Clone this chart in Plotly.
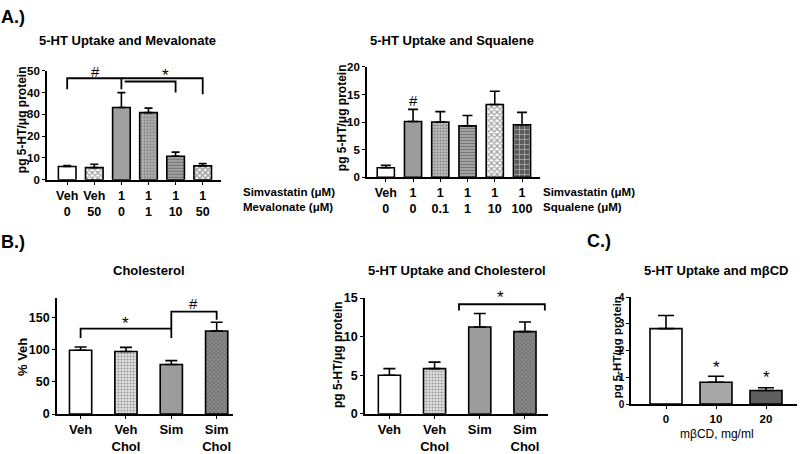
import plotly.graph_objects as go

W, H = 800, 454

# ---------------- data ----------------
mev_labels = ["Veh<br>0", "Veh<br>50", "1<br>0", "1<br>1", "1<br>10", "1<br>50"]
mev_vals = [6.1, 5.6, 33.2, 30.8, 10.8, 6.4]
mev_err = [0.4, 1.5, 6.8, 2.1, 1.9, 1.0]

sq_labels = ["Veh<br>0", "1<br>0", "1<br>0.1", "1<br>1", "1<br>10", "1<br>100"]
sq_vals = [1.7, 10.1, 10.0, 9.3, 13.2, 9.5]
sq_err = [0.45, 2.2, 1.9, 1.9, 2.4, 2.25]

chol_labels = ["Veh", "Veh<br>Chol", "Sim", "Sim<br>Chol"]
chol_vals = [99, 97, 77, 129]
chol_err = [5, 6.5, 6, 13.5]

upt_labels = ["Veh", "Veh<br>Chol", "Sim", "Sim<br>Chol"]
upt_vals = [5.0, 5.85, 11.25, 10.65]
upt_err = [0.85, 0.85, 1.75, 1.25]

mbcd_labels = ["0", "10", "20"]
mbcd_vals = [2.82, 0.82, 0.51]
mbcd_err = [0.49, 0.22, 0.10]

# significance brackets (data units) and markers
mev_brackets = [[(0, 41.5), (0, 46.6), (2, 46.6), (2, 41.5)],
                [(2, 46.6), (5, 46.6), (5, 39.3)],
                [(2.12, 45.1), (4, 45.1), (4, 40.0)]]
mev_marks = [("#", 1.03, 49.6), ("*", 3.64, 49.8)]
sq_marks = [("#", 1, 14.0)]
chol_brackets = [[(0, 118), (0, 132.5), (2, 132.5), (2, 118)],
                 [(2, 132.5), (2, 159), (3, 159), (3, 146.5)]]
chol_marks = [("*", 1, 146), ("#", 2.5, 171)]
upt_brackets = [[(1.54, 13.4), (1.54, 14.2), (3.44, 14.2), (3.44, 13.4)]]
upt_marks = [("*", 2.46, 15.6)]
mbcd_marks = [("*", 1, 1.5), ("*", 2, 1.16)]

FONT = "Liberation Sans, Arial, sans-serif"


def px(x):
    return x / W


def py(y):
    return 1 - y / H


fig = go.Figure()

panels = [
    dict(labels=mev_labels, vals=mev_vals, err=mev_err,
         bg=["#ffffff", "#ffffff", "#a0a0a0", "#b4b4b4", "#a4a4a4", "#ffffff"],
         shape=["", "x", "", ".", "-", "x"],
         fg=["#000", "#111111", "#000", "#444444", "#444444", "#000000"],
         size=[4, 4, 4, 3, 3, 4], sol=[0.3, 0.55, 0.3, 0.4, 0.4, 0.65],
         xd=(47, 221), yd=(178.7, 66), xr=(-0.745, 5.675), yr=(0, 50), dt=10,
         bw=0.65, cap=4, tf=11.5, xf=12.5),
    dict(labels=sq_labels, vals=sq_vals, err=sq_err,
         bg=["#ffffff", "#9c9c9c", "#c0c0c0", "#a8a8a8", "#ffffff", "#5a5a5a"],
         shape=["", "", ".", "-", "x", "+"],
         fg=["#000", "#000", "#555555", "#444444", "#111111", "#111111"],
         size=[4, 4, 3, 3, 4, 5], sol=[0.3, 0.3, 0.4, 0.4, 0.55, 0.3],
         xd=(367, 540), yd=(176, 62), xr=(-0.69, 5.66), yr=(0, 20), dt=5,
         bw=0.63, cap=5, tf=11.5, xf=12.5),
    dict(labels=chol_labels, vals=chol_vals, err=chol_err,
         bg=["#ffffff", "#e4e4e4", "#9c9c9c", "#8c8c8c"],
         shape=["", ".", "", "x"],
         fg=["#000", "#888888", "#000", "#2a2a2a"],
         size=[4, 3, 4, 3], sol=[0.3, 0.4, 0.3, 0.45],
         xd=(57, 233), yd=(421, 301), xr=(-0.52, 3.36), yr=(0, 180), dt=50,
         bw=0.49, cap=6, tf=12.5, xf=13),
    dict(labels=upt_labels, vals=upt_vals, err=upt_err,
         bg=["#ffffff", "#e4e4e4", "#9c9c9c", "#8c8c8c"],
         shape=["", ".", "", "x"],
         fg=["#000", "#888888", "#000", "#2a2a2a"],
         size=[4, 3, 4, 3], sol=[0.3, 0.4, 0.3, 0.45],
         xd=(365, 548), yd=(420.7, 301), xr=(-0.54, 3.51), yr=(0, 15), dt=5,
         bw=0.49, cap=6, tf=12.5, xf=13),
    dict(labels=mbcd_labels, vals=mbcd_vals, err=mbcd_err,
         bg=["#ffffff", "#a8a8a8", "#5e5e5e"],
         shape=["", "", ""],
         fg=["#000", "#000", "#000"],
         size=[4, 4, 4], sol=[0.3, 0.3, 0.3],
         xd=(631, 797), yd=(410.7, 300), xr=(-0.7, 2.62), yr=(0, 4), dt=1,
         bw=0.64, cap=8, tf=10, xf=11.5),
]

layout_axes = {}
for i, p in enumerate(panels, start=1):
    xa = "x" if i == 1 else f"x{i}"
    ya = "y" if i == 1 else f"y{i}"
    n = len(p["vals"])
    idx = list(range(n))
    fig.add_trace(go.Bar(
        x=idx, y=p["vals"], width=p["bw"], xaxis=xa, yaxis=ya,
        marker=dict(color=p["bg"], line=dict(color="black", width=1.6),
                    pattern=dict(shape=p["shape"], fgcolor=p["fg"], bgcolor=p["bg"],
                                 size=p["size"], solidity=p["sol"])),
        error_y=dict(type="data", symmetric=False, array=p["err"],
                     arrayminus=[0] * n, color="black", thickness=1.6, width=p["cap"]),
        showlegend=False, hoverinfo="skip"))
    axkey_x = "xaxis" if i == 1 else f"xaxis{i}"
    axkey_y = "yaxis" if i == 1 else f"yaxis{i}"
    layout_axes[axkey_x] = dict(
        domain=[px(p["xd"][0]), px(p["xd"][1])], range=list(p["xr"]),
        anchor=ya, tickvals=idx, ticktext=p["labels"],
        showline=True, linecolor="black", linewidth=1.6, ticks="outside",
        ticklen=3, tickwidth=1.4, tickcolor="black", showgrid=False, zeroline=False,
        tickfont=dict(family=FONT, size=p["xf"], color="black", weight="bold"))
    layout_axes[axkey_y] = dict(
        domain=[py(p["yd"][0]), py(p["yd"][1])], range=list(p["yr"]),
        anchor=xa, dtick=p["dt"], tick0=0,
        showline=True, linecolor="black", linewidth=1.6, ticks="outside",
        ticklen=3, tickwidth=1.4, tickcolor="black", showgrid=False, zeroline=False,
        tickfont=dict(family=FONT, size=p["tf"], color="black", weight="bold"))

fig.update_layout(**layout_axes)

shapes = []
for brs, xr_, yr_ in [(mev_brackets, "x", "y"), (chol_brackets, "x3", "y3"),
                      (upt_brackets, "x4", "y4")]:
    for br in brs:
        path = "M " + " L ".join(f"{a},{b}" for a, b in br)
        shapes.append(dict(type="path", path=path, xref=xr_, yref=yr_,
                           line=dict(color="black", width=1.8)))

annotations = []
for marks, xr_, yr_, pi in [(mev_marks, "x", "y", 0), (sq_marks, "x2", "y2", 1),
                            (chol_marks, "x3", "y3", 2), (upt_marks, "x4", "y4", 3),
                            (mbcd_marks, "x5", "y5", 4)]:
    p = panels[pi]
    top = p["yr"][1]
    ppu = (p["yd"][0] - p["yd"][1]) / (p["yr"][1] - p["yr"][0])  # px per unit
    for t, a, b in marks:
        # annotations outside the axis range are hidden, so clamp and shift in px
        yy = min(b, top)
        extra = (b - yy) * ppu
        annotations.append(dict(text=t, x=a, y=yy, xref=xr_, yref=yr_, showarrow=False,
                                yshift=(-4 if t == "*" else 0) + extra,
                                font=dict(family=FONT, size=17 if t == "*" else 15,
                                          color="black")))


def txt(text, x, y, size, bold=True, xanchor="center", angle=0):
    annotations.append(dict(
        text=f"<b>{text}</b>" if bold else text, x=px(x), y=py(y), xref="paper", yref="paper",
        showarrow=False, xanchor=xanchor, yanchor="middle", textangle=angle,
        font=dict(family=FONT, size=size, color="black")))


# panel letters
txt("A.)", -1, 10, 18, xanchor="left")
txt("B.)", -1, 243, 18, xanchor="left")
txt("C.)", 585, 242, 18, xanchor="left")
# titles
txt("5-HT Uptake and Mevalonate", 127, 35, 13)
txt("5-HT Uptake and Squalene", 452, 35, 13)
txt("Cholesterol", 149, 272, 13)
txt("5-HT Uptake and Cholesterol", 457, 273, 13)
txt("5-HT Uptake and mβCD", 716, 273, 13)
# y titles
txt("pg 5-HT/μg protein", 22, 117, 12, angle=-90)
txt("pg 5-HT/μg protein", 342, 115, 12, angle=-90)
txt("% Veh", 22, 362, 13, angle=-90)
txt("pg 5-HT/μg protein", 338, 360, 12, angle=-90)
txt("pg 5-HT/μg protein", 617, 352, 11.5, angle=-90)
# side labels
txt("Simvastatin (μM)", 241, 191, 11.5, xanchor="left")
txt("Mevalonate (μM)", 241, 207, 11.5, xanchor="left")
txt("Simvastatin (μM)", 541, 191, 11.5, xanchor="left")
txt("Squalene (μM)", 541, 207, 11.5, xanchor="left")
# x title C
txt("mβCD, mg/ml", 717, 442, 12, bold=False)

fig.update_layout(
    width=W, height=H, margin=dict(l=0, r=0, t=0, b=0),
    paper_bgcolor="white", plot_bgcolor="white", showlegend=False,
    bargap=0.3, shapes=shapes, annotations=annotations,
    font=dict(family=FONT, color="black"))

fig.write_html("out.html", config={"displayModeBar": False},
               post_script="document.body.style.margin='0px';")
